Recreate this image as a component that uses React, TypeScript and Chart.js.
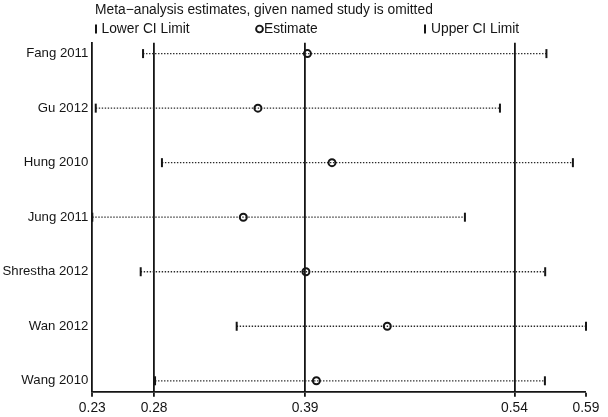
import React, { useEffect, useRef } from "react";
import { Chart, registerables } from "chart.js";

Chart.register(...registerables);

const studies = ["Fang 2011", "Gu 2012", "Hung 2010", "Jung 2011", "Shrestha 2012", "Wan 2012", "Wang 2010"];
const estimates = [0.388, 0.3521, 0.4058, 0.3415, 0.3869, 0.4459, 0.3945];
const lowerCI = [0.2688, 0.2345, 0.2825, 0.232, 0.2671, 0.3367, 0.2775];
const upperCI = [0.5613, 0.5276, 0.5805, 0.5022, 0.5604, 0.59, 0.5602];
const tickValues = [0.232, 0.2768, 0.3863, 0.5381, 0.59];
const tickLabels = ["0.23", "0.28", "0.39", "0.54", "0.59"];
const titleText = "Meta\u2212analysis estimates, given named study is omitted";
const legendLabels = ["Lower CI Limit", "Estimate", "Upper CI Limit"];

const FONT = "'Liberation Sans', Arial, Helvetica, sans-serif";
const FS = 13.8;
const INK = "#151515";

const headerPlugin = {
  id: "header",
  afterDraw(chart: any) {
    const ctx = chart.ctx;
    ctx.save();
    ctx.fillStyle = INK;
    ctx.strokeStyle = INK;
    ctx.font = `${FS}px ${FONT}`;
    ctx.textBaseline = "middle";
    ctx.textAlign = "left";
    ctx.fillText(titleText, 95, 10);
    const ly = 29;
    ctx.lineWidth = 2;
    ctx.beginPath();
    ctx.moveTo(96, ly - 4.5);
    ctx.lineTo(96, ly + 4.5);
    ctx.stroke();
    ctx.fillText(legendLabels[0], 101.5, ly);
    ctx.lineWidth = 1.9;
    ctx.beginPath();
    ctx.arc(259.5, ly, 3.4, 0, Math.PI * 2);
    ctx.stroke();
    ctx.fillText(legendLabels[1], 264, ly);
    ctx.lineWidth = 2;
    ctx.beginPath();
    ctx.moveTo(425, ly - 4.5);
    ctx.lineTo(425, ly + 4.5);
    ctx.stroke();
    ctx.fillText(legendLabels[2], 431, ly);
    ctx.restore();
  },
};

export default function App() {
  const ref = useRef<HTMLCanvasElement | null>(null);
  useEffect(() => {
    if (!ref.current) return;
    const datasets: any[] = studies.map((s, i) => ({
      type: "line",
      label: s,
      data: [
        { x: lowerCI[i], y: i + 1 },
        { x: upperCI[i], y: i + 1 },
      ],
      borderColor: "#2a2a2a",
      borderWidth: 1.3,
      borderDash: [1.4, 1.6],
      pointStyle: "line",
      rotation: 90,
      pointRadius: 4.5,
      pointBorderWidth: 2,
      pointBorderColor: INK,
      clip: false,
      order: 2,
    }));
    datasets.push({
      type: "scatter",
      label: "Estimate",
      data: estimates.map((e, i) => ({ x: e, y: i + 1 })),
      pointStyle: "circle",
      pointRadius: 3.5,
      pointBorderWidth: 2,
      pointBorderColor: INK,
      pointBackgroundColor: "rgba(255,255,255,0)",
      clip: false,
      order: 1,
    });
    const chart = new Chart(ref.current, {
      type: "scatter",
      data: { datasets },
      options: {
        animation: false,
        responsive: false,
        devicePixelRatio: 1,
        layout: { padding: { top: 42.7, right: 22, left: 0, bottom: 0 } },
        plugins: { legend: { display: false }, tooltip: { enabled: false }, title: { display: false } },
        scales: {
          x: {
            type: "linear",
            min: tickValues[0],
            max: tickValues[tickValues.length - 1],
            afterBuildTicks: (scale: any) => {
              scale.ticks = tickValues.map((v) => ({ value: v }));
            },
            afterFit: (scale: any) => {
              scale.height = 25.3;
            },
            ticks: {
              autoSkip: false,
              maxRotation: 0,
              padding: 3,
              color: INK,
              font: { family: FONT, size: FS },
              callback: (_v: any, idx: number) => tickLabels[idx],
            },
            grid: {
              display: true,
              drawOnChartArea: true,
              drawTicks: true,
              tickLength: 5,
              tickWidth: 1.8,
              tickColor: INK,
              color: INK,
              lineWidth: (c: any) => (c.index === 0 || c.index === tickValues.length - 1 ? 0 : 1.8),
            },
            border: { display: true, color: INK, width: 1.8 },
          },
          y: {
            type: "linear",
            min: 0.8,
            max: 7.2,
            reverse: true,
            afterBuildTicks: (scale: any) => {
              scale.ticks = studies.map((_, i) => ({ value: i + 1 }));
            },
            afterFit: (scale: any) => {
              scale.width = 92.3;
            },
            ticks: {
              autoSkip: false,
              padding: 4,
              color: INK,
              font: { family: FONT, size: 13.2 },
              callback: (_v: any, idx: number) => studies[idx],
            },
            grid: { display: false, drawTicks: false },
            border: { display: true, color: INK, width: 1.8 },
          },
        },
      },
      plugins: [headerPlugin],
    } as any);
    return () => chart.destroy();
  }, []);
  return (
    <div style={{ position: "absolute", left: 0, top: 0, width: 608, height: 417, background: "#fff" }}>
      <canvas ref={ref} width={608} height={417} style={{ width: 608, height: 417, display: "block" }} />
    </div>
  );
}
